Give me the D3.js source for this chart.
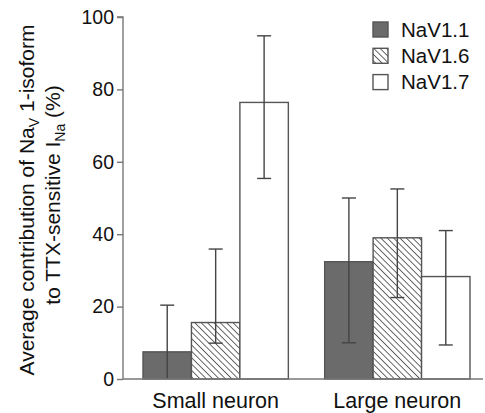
<!DOCTYPE html>
<html>
<head>
<meta charset="utf-8">
<script src="https://cdn.jsdelivr.net/npm/d3@7"></script>
<style>
  body { margin: 0; background: #fff; }
  text { font-family: Arial, "Liberation Sans", sans-serif; fill: #111; }
</style>
</head>
<body>
<div class="chart"></div>
<script>
// Data
var groups = ["Small neuron", "Large neuron"];
var isoforms = ["NaV1.1", "NaV1.6", "NaV1.7"];
var means = [[7.5, 15.6, 76.4], [32.4, 39.0, 28.3]];
var errHigh = [[20.4, 35.9, 94.8], [50.0, 52.5, 41.0]];
var errLow = [[0, 9.9, 55.4], [10.0, 22.5, 9.4]];
var yTicks = [0, 20, 40, 60, 80, 100];

var svgWidth = 485, svgHeight = 413;
var margin = { top: 17, right: 2, bottom: 34, left: 123 };
var width = svgWidth - margin.left - margin.right;
var height = svgHeight - margin.top - margin.bottom;

var svg = d3.select(".chart").append("svg")
    .attr("width", svgWidth)
    .attr("height", svgHeight);

// hatch pattern for NaV1.6
var defs = svg.append("defs");
var pat = defs.append("pattern")
    .attr("id", "hatch")
    .attr("patternUnits", "userSpaceOnUse")
    .attr("width", 4.5)
    .attr("height", 4.5)
    .attr("patternTransform", "rotate(-45)");
pat.append("rect").attr("width", 4.5).attr("height", 4.5).attr("fill", "#fff");
pat.append("line")
    .attr("x1", 0).attr("y1", 0).attr("x2", 0).attr("y2", 4.5)
    .attr("stroke", "#444").attr("stroke-width", 1.6);

var fills = ["#6b6b6b", "url(#hatch)", "#fff"];

var chart = svg.append("g")
    .attr("transform", "translate(" + margin.left + "," + margin.top + ")");

var x0 = d3.scaleBand().domain(groups).range([20, 347]).paddingInner(0.2);
var x1 = d3.scaleBand().domain(isoforms).range([0, x0.bandwidth()]);
var y = d3.scaleLinear().domain([0, 100]).range([height, 0]);

// bars
groups.forEach(function(g, gi) {
    var grp = chart.append("g").attr("transform", "translate(" + x0(g) + ",0)");
    grp.selectAll("rect")
        .data(isoforms)
        .enter()
        .append("rect")
        .attr("x", function(d) { return x1(d); })
        .attr("y", function(d, i) { return y(means[gi][i]); })
        .attr("width", x1.bandwidth())
        .attr("height", function(d, i) { return height - y(means[gi][i]); })
        .attr("fill", function(d, i) { return fills[i]; })
        .attr("stroke", "#555")
        .attr("stroke-width", 1.4);

    // error bars
    isoforms.forEach(function(d, i) {
        var cx = x1(d) + x1.bandwidth() / 2;
        grp.append("line")
            .attr("x1", cx).attr("x2", cx)
            .attr("y1", y(errHigh[gi][i])).attr("y2", y(errLow[gi][i]))
            .attr("stroke", "#444").attr("stroke-width", 1.4);
        grp.append("line")
            .attr("x1", cx - 7).attr("x2", cx + 7)
            .attr("y1", y(errHigh[gi][i])).attr("y2", y(errHigh[gi][i]))
            .attr("stroke", "#444").attr("stroke-width", 1.4);
        if (errLow[gi][i] > 0) {
            grp.append("line")
                .attr("x1", cx - 7).attr("x2", cx + 7)
                .attr("y1", y(errLow[gi][i])).attr("y2", y(errLow[gi][i]))
                .attr("stroke", "#444").attr("stroke-width", 1.4);
        }
    });
});

// axes
var leftAxis = d3.axisLeft(y).tickValues(yTicks).tickSize(6).tickPadding(3);
var yAxisG = chart.append("g").attr("class", "y-axis").call(leftAxis);
yAxisG.selectAll("path, line").attr("stroke", "#777").attr("stroke-width", 1.4);
yAxisG.select(".domain").attr("d", "M0," + height + "V0H-6");
yAxisG.selectAll("text").style("font-size", "19.5px").attr("fill", "#111")
    .style("font-family", "Arial, 'Liberation Sans', sans-serif");

chart.append("line")
    .attr("x1", 0).attr("x2", width)
    .attr("y1", height).attr("y2", height)
    .attr("stroke", "#777").attr("stroke-width", 1.4);

chart.selectAll(".xlabel")
    .data(groups)
    .enter()
    .append("text")
    .attr("class", "xlabel")
    .attr("x", function(d) { return x0(d) + x0.bandwidth() / 2; })
    .attr("y", height + 29)
    .attr("text-anchor", "middle")
    .style("font-size", "21.5px")
    .text(function(d) { return d; });

// y axis label (two lines, with subscripts)
var yl = svg.append("text")
    .attr("transform", "translate(34,200) rotate(-90)")
    .attr("text-anchor", "middle")
    .style("font-size", "21px");
yl.append("tspan").text("Average contribution of Na");
yl.append("tspan").attr("dy", 5).style("font-size", "14px").text("V");
yl.append("tspan").attr("dy", -5).text(" 1-isoform");

var yl2 = svg.append("text")
    .attr("transform", "translate(60,195) rotate(-90)")
    .attr("text-anchor", "middle")
    .style("font-size", "21px");
yl2.append("tspan").text("to TTX-sensitive I");
yl2.append("tspan").attr("dy", 5).style("font-size", "14px").text("Na");
yl2.append("tspan").attr("dy", -5).text(" (%)");

// legend
var legend = svg.append("g").attr("transform", "translate(373,22)");
isoforms.forEach(function(d, i) {
    var row = legend.append("g").attr("transform", "translate(0," + (i * 26.3) + ")");
    row.append("rect")
        .attr("width", 15).attr("height", 15)
        .attr("fill", fills[i])
        .attr("stroke", "#555").attr("stroke-width", 1.4);
    row.append("text")
        .attr("x", 28).attr("y", 14.5)
        .style("font-size", "20.5px")
        .text(d);
});
</script>
</body>
</html>
